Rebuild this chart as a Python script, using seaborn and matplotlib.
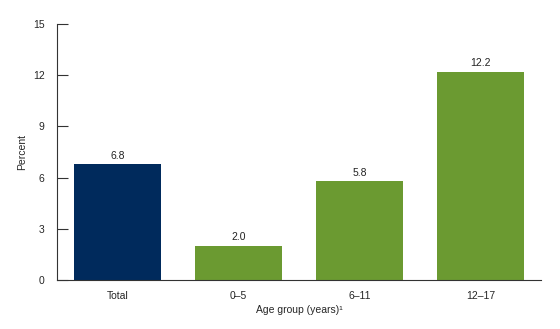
import matplotlib
matplotlib.use("Agg")
import matplotlib.pyplot as plt
import seaborn as sns
import pandas as pd

categories = ["Total", "0–5", "6–11", "12–17"]
values = [6.8, 2.0, 5.8, 12.2]
colors = ["#002a5c", "#6b9a31", "#6b9a31", "#6b9a31"]
yticks = [0, 3, 6, 9, 12, 15]

sns.set_style("white")
plt.rcParams['font.family'] = ['Liberation Sans', 'DejaVu Sans']

df = pd.DataFrame({"cat": categories, "val": values})
fig = plt.figure(figsize=(5.6, 3.29), dpi=100)
ax = fig.add_axes([0.102, 0.149, 0.864, 0.778])
sns.barplot(data=df, x="cat", y="val", hue="cat", palette=colors, legend=False,
            width=0.72, ax=ax, saturation=1, linewidth=0)
for p, v in zip(ax.patches, values):
    ax.text(p.get_x() + p.get_width() / 2, v + 0.2, f"{v:.1f}", ha="center", va="bottom",
            fontsize=7.5, color="#222222")
ax.set_ylim(0, 15)
ax.set_xlim(-0.5, 3.5)
ax.set_yticks(yticks)
ax.set_yticklabels([str(t) for t in yticks], fontsize=7.5)
ax.tick_params(axis="y", direction="in", length=8, width=0.8, color="#333333", pad=9, left=True)
ax.tick_params(axis="x", length=0, pad=8, labelsize=7.5)
for s in ["top", "right"]:
    ax.spines[s].set_visible(False)
for s in ["left", "bottom"]:
    ax.spines[s].set_color("#333333")
    ax.spines[s].set_linewidth(0.8)
ax.set_xlabel("Age group (years)¹", fontsize=7.5, labelpad=3)
ax.set_ylabel("Percent", fontsize=7.5, labelpad=4)
fig.savefig("out.png", dpi=100)
